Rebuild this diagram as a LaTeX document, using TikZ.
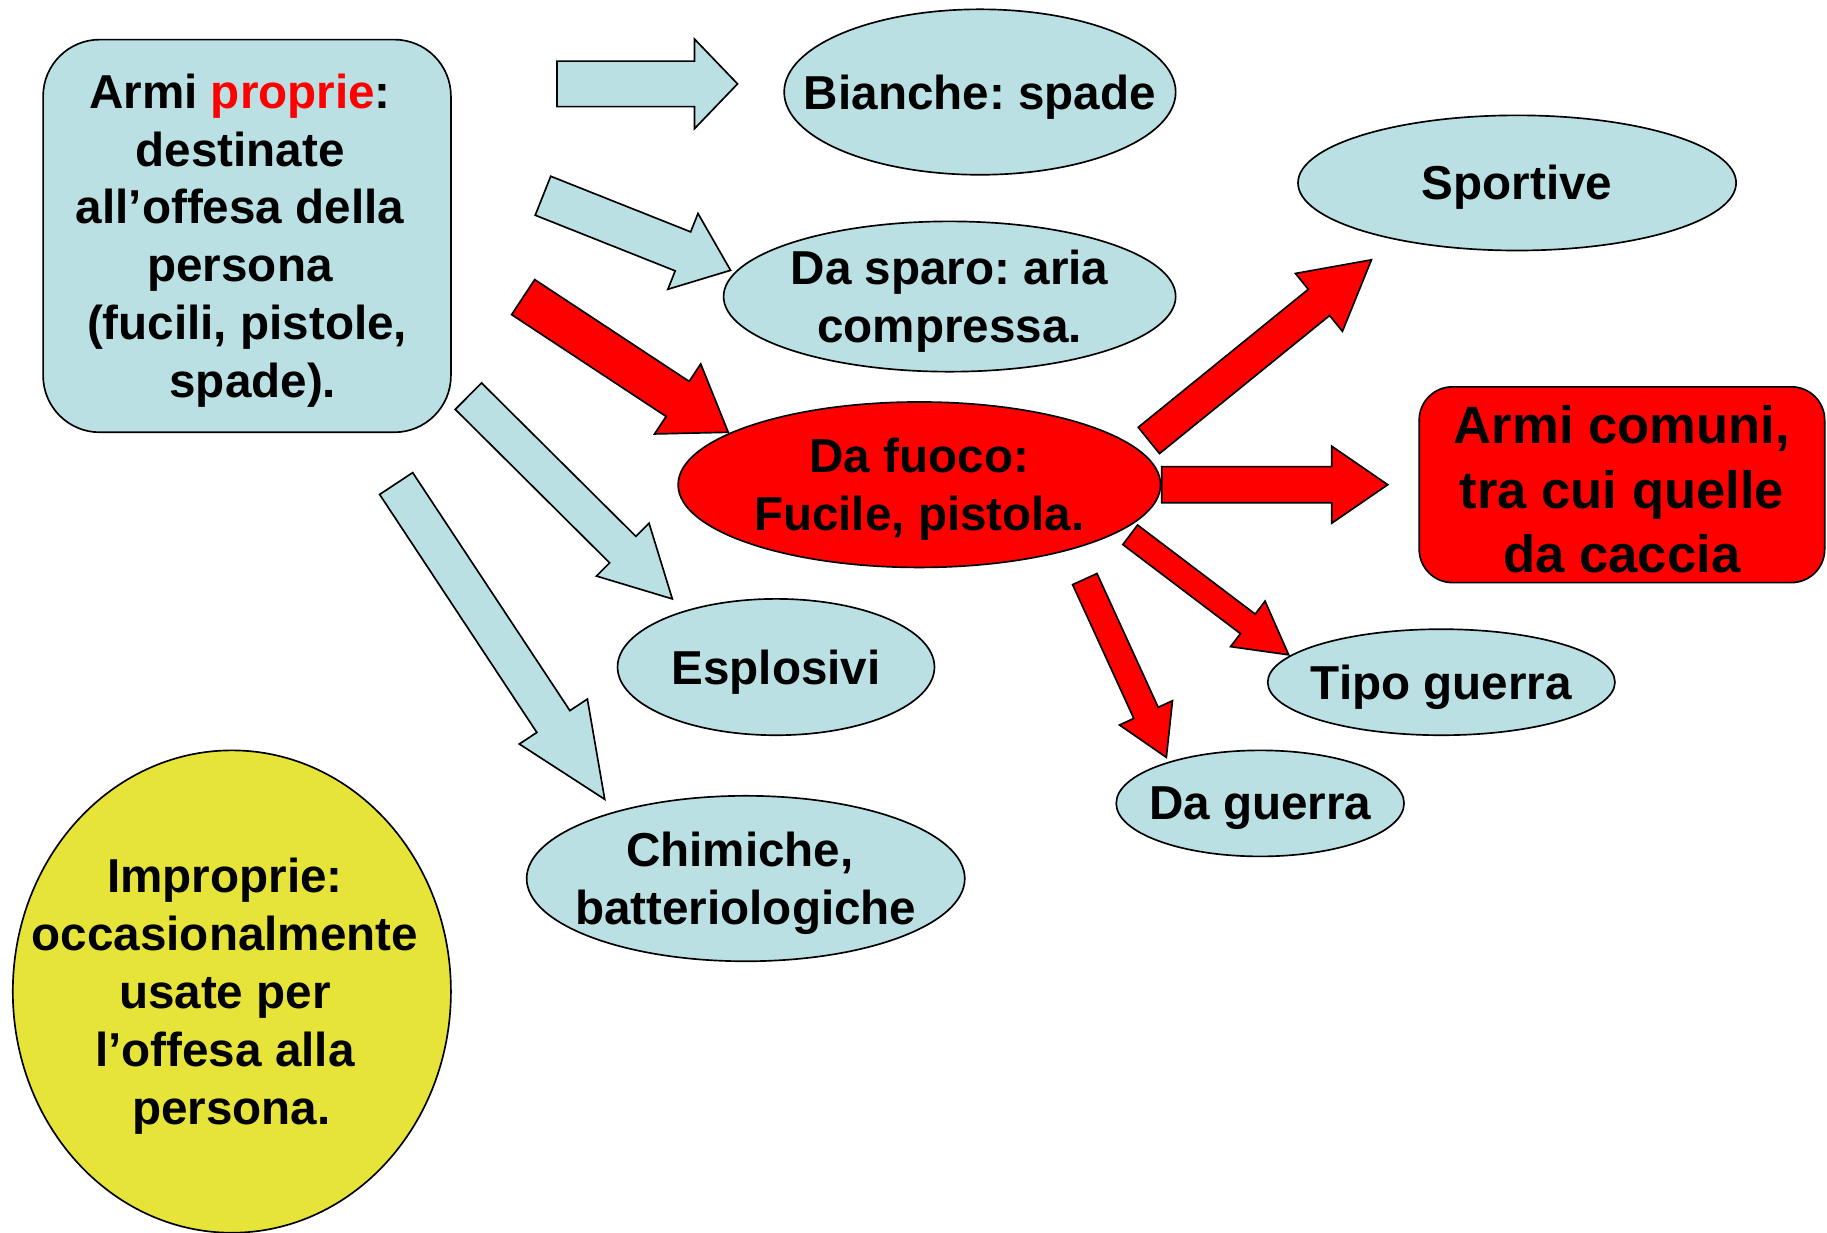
\documentclass[tikz,border=0pt]{standalone}
\usepackage{fontspec}
\setmainfont{Liberation Sans}
\usetikzlibrary{shapes.geometric,calc}

\definecolor{paleblue}{RGB}{186,224,227}
\definecolor{firered}{RGB}{255,0,0}
\definecolor{limeyellow}{RGB}{230,228,56}

\newcommand{\bodyfont}{\fontsize{14.3}{17.4}\selectfont\bfseries\frenchspacing}
\newcommand{\bigfont}{\fontsize{15.8}{19.3}\selectfont\bfseries\frenchspacing}

% block arrow: tail, tip, shaft half width, head half width, head length, fill
\newcommand{\blockarrow}[6]{%
\coordinate (hb) at ($(#2)!#5*0.35pt!(#1)$);
\draw [fill=#6] ($(#1)!#3*0.35pt!90:(#2)$) -- ($(hb)!#3*0.35pt!90:(#2)$) -- ($(hb)!#4*0.35pt!90:(#2)$) -- (#2) -- ($(hb)!#4*0.35pt!-90:(#2)$) -- ($(hb)!#3*0.35pt!-90:(#2)$) -- ($(#1)!#3*0.35pt!-90:(#2)$) -- cycle ;
}

\tikzset{every picture/.style={line width=0.5pt}}
\tikzset{
oval/.style={ellipse, draw, fill=paleblue, inner sep=0pt},
roundbox/.style={rectangle, draw, rounded corners=#1, inner sep=0pt},
txt/.style={align=center, font=\bodyfont, yshift=-1.4pt, inner sep=0pt}
}

\begin{document}
\begin{tikzpicture}[x=0.35pt,y=0.35pt,yscale=-1,xscale=1]
\useasboundingbox (0,0) rectangle (1568,1058);

% main boxes
\node (proprie) [roundbox=17pt, fill=paleblue, minimum width=350*0.35pt, minimum height=337*0.35pt,
  label={[txt, xshift=-2.1pt]center:{Armi {\color{firered}proprie}:\\destinate\\all’offesa della\\persona\\\hspace*{4.2pt}(fucili, pistole,\\\hspace*{7.7pt}spade).}}] at (212,202.5) {};
\node (improprie) [oval, fill=limeyellow, minimum width=376*0.35pt, minimum height=414*0.35pt,
  label={[txt, xshift=-2.1pt]center:{Improprie:\\occasionalmente\\usate per\\l’offesa alla\\\hspace*{3.9pt}persona.}}] at (199,851) {};

% categories
\node (bianche) [oval, minimum width=336*0.35pt, minimum height=142*0.35pt, label={[txt]center:Bianche: spade}] at (841,79) {};
\node (sparo) [oval, minimum width=388*0.35pt, minimum height=129*0.35pt, label={[txt]center:{Da sparo: aria\\compressa.}}] at (815,254.5) {};
\node (fuoco) [oval, fill=firered, minimum width=414*0.35pt, minimum height=142*0.35pt, label={[txt]center:{Da fuoco:\\Fucile, pistola.}}] at (789,416) {};
\node (esplosivi) [oval, minimum width=272*0.35pt, minimum height=117*0.35pt, label={[txt]center:Esplosivi}] at (666,572.5) {};
\node (chimiche) [oval, minimum width=376*0.35pt, minimum height=142*0.35pt, label={[txt]center:{Chimiche,\hspace*{3.5pt}\\batteriologiche}}] at (640,754) {};

% firearms
\node (sportive) [oval, minimum width=376*0.35pt, minimum height=116*0.35pt, label={[txt]center:Sportive}] at (1302,157) {};
\node (comuni) [roundbox=10pt, fill=firered, minimum width=348*0.35pt, minimum height=168*0.35pt,
  label={[txt, font=\bigfont]center:{Armi comuni,\\tra cui quelle\\da caccia}}] at (1392,416) {};
\node (tipoguerra) [oval, minimum width=298*0.35pt, minimum height=91*0.35pt, label={[txt]center:Tipo guerra}] at (1237,585.5) {};
\node (daguerra) [oval, minimum width=247*0.35pt, minimum height=91*0.35pt, label={[txt]center:Da guerra}] at (1081.5,689.5) {};

% arrow ends
\coordinate (bianche-from) at (478,72);
\coordinate (bianche-to) at (633,72);
\coordinate (sparo-from) at (466,168);
\coordinate (sparo-to) at (627,232);
\coordinate (fuoco-from) at (449,255);
\coordinate (fuoco-to) at (625,371);
\coordinate (esplosivi-from) at (402,340);
\coordinate (esplosivi-to) at (577,514);
\coordinate (chimiche-from) at (340,415);
\coordinate (chimiche-to) at (519,686);
\coordinate (sportive-from) at (986,378);
\coordinate (sportive-to) at (1177,223);
\coordinate (comuni-from) at (997,416);
\coordinate (comuni-to) at (1191,416);
\coordinate (tipoguerra-from) at (970,459);
\coordinate (tipoguerra-to) at (1106,562);
\coordinate (daguerra-from) at (931,497);
\coordinate (daguerra-to) at (1001,650);

% pale arrows
\blockarrow{bianche-from}{bianche-to}{19.5}{38.5}{37}{paleblue}
\blockarrow{sparo-from}{sparo-to}{18}{35}{44}{paleblue}
\blockarrow{esplosivi-from}{esplosivi-to}{16}{32}{60}{paleblue}
\blockarrow{chimiche-from}{chimiche-to}{17}{35}{80}{paleblue}

% red arrows
\blockarrow{fuoco-from}{fuoco-to}{18}{36}{52}{firered}
\blockarrow{sportive-from}{sportive-to}{14.5}{32}{58}{firered}
\blockarrow{comuni-from}{comuni-to}{15.5}{33}{48}{firered}
\blockarrow{tipoguerra-from}{tipoguerra-to}{10.5}{24.5}{44}{firered}
\blockarrow{daguerra-from}{daguerra-to}{11.5}{25}{42}{firered}

\end{tikzpicture}
\end{document}
